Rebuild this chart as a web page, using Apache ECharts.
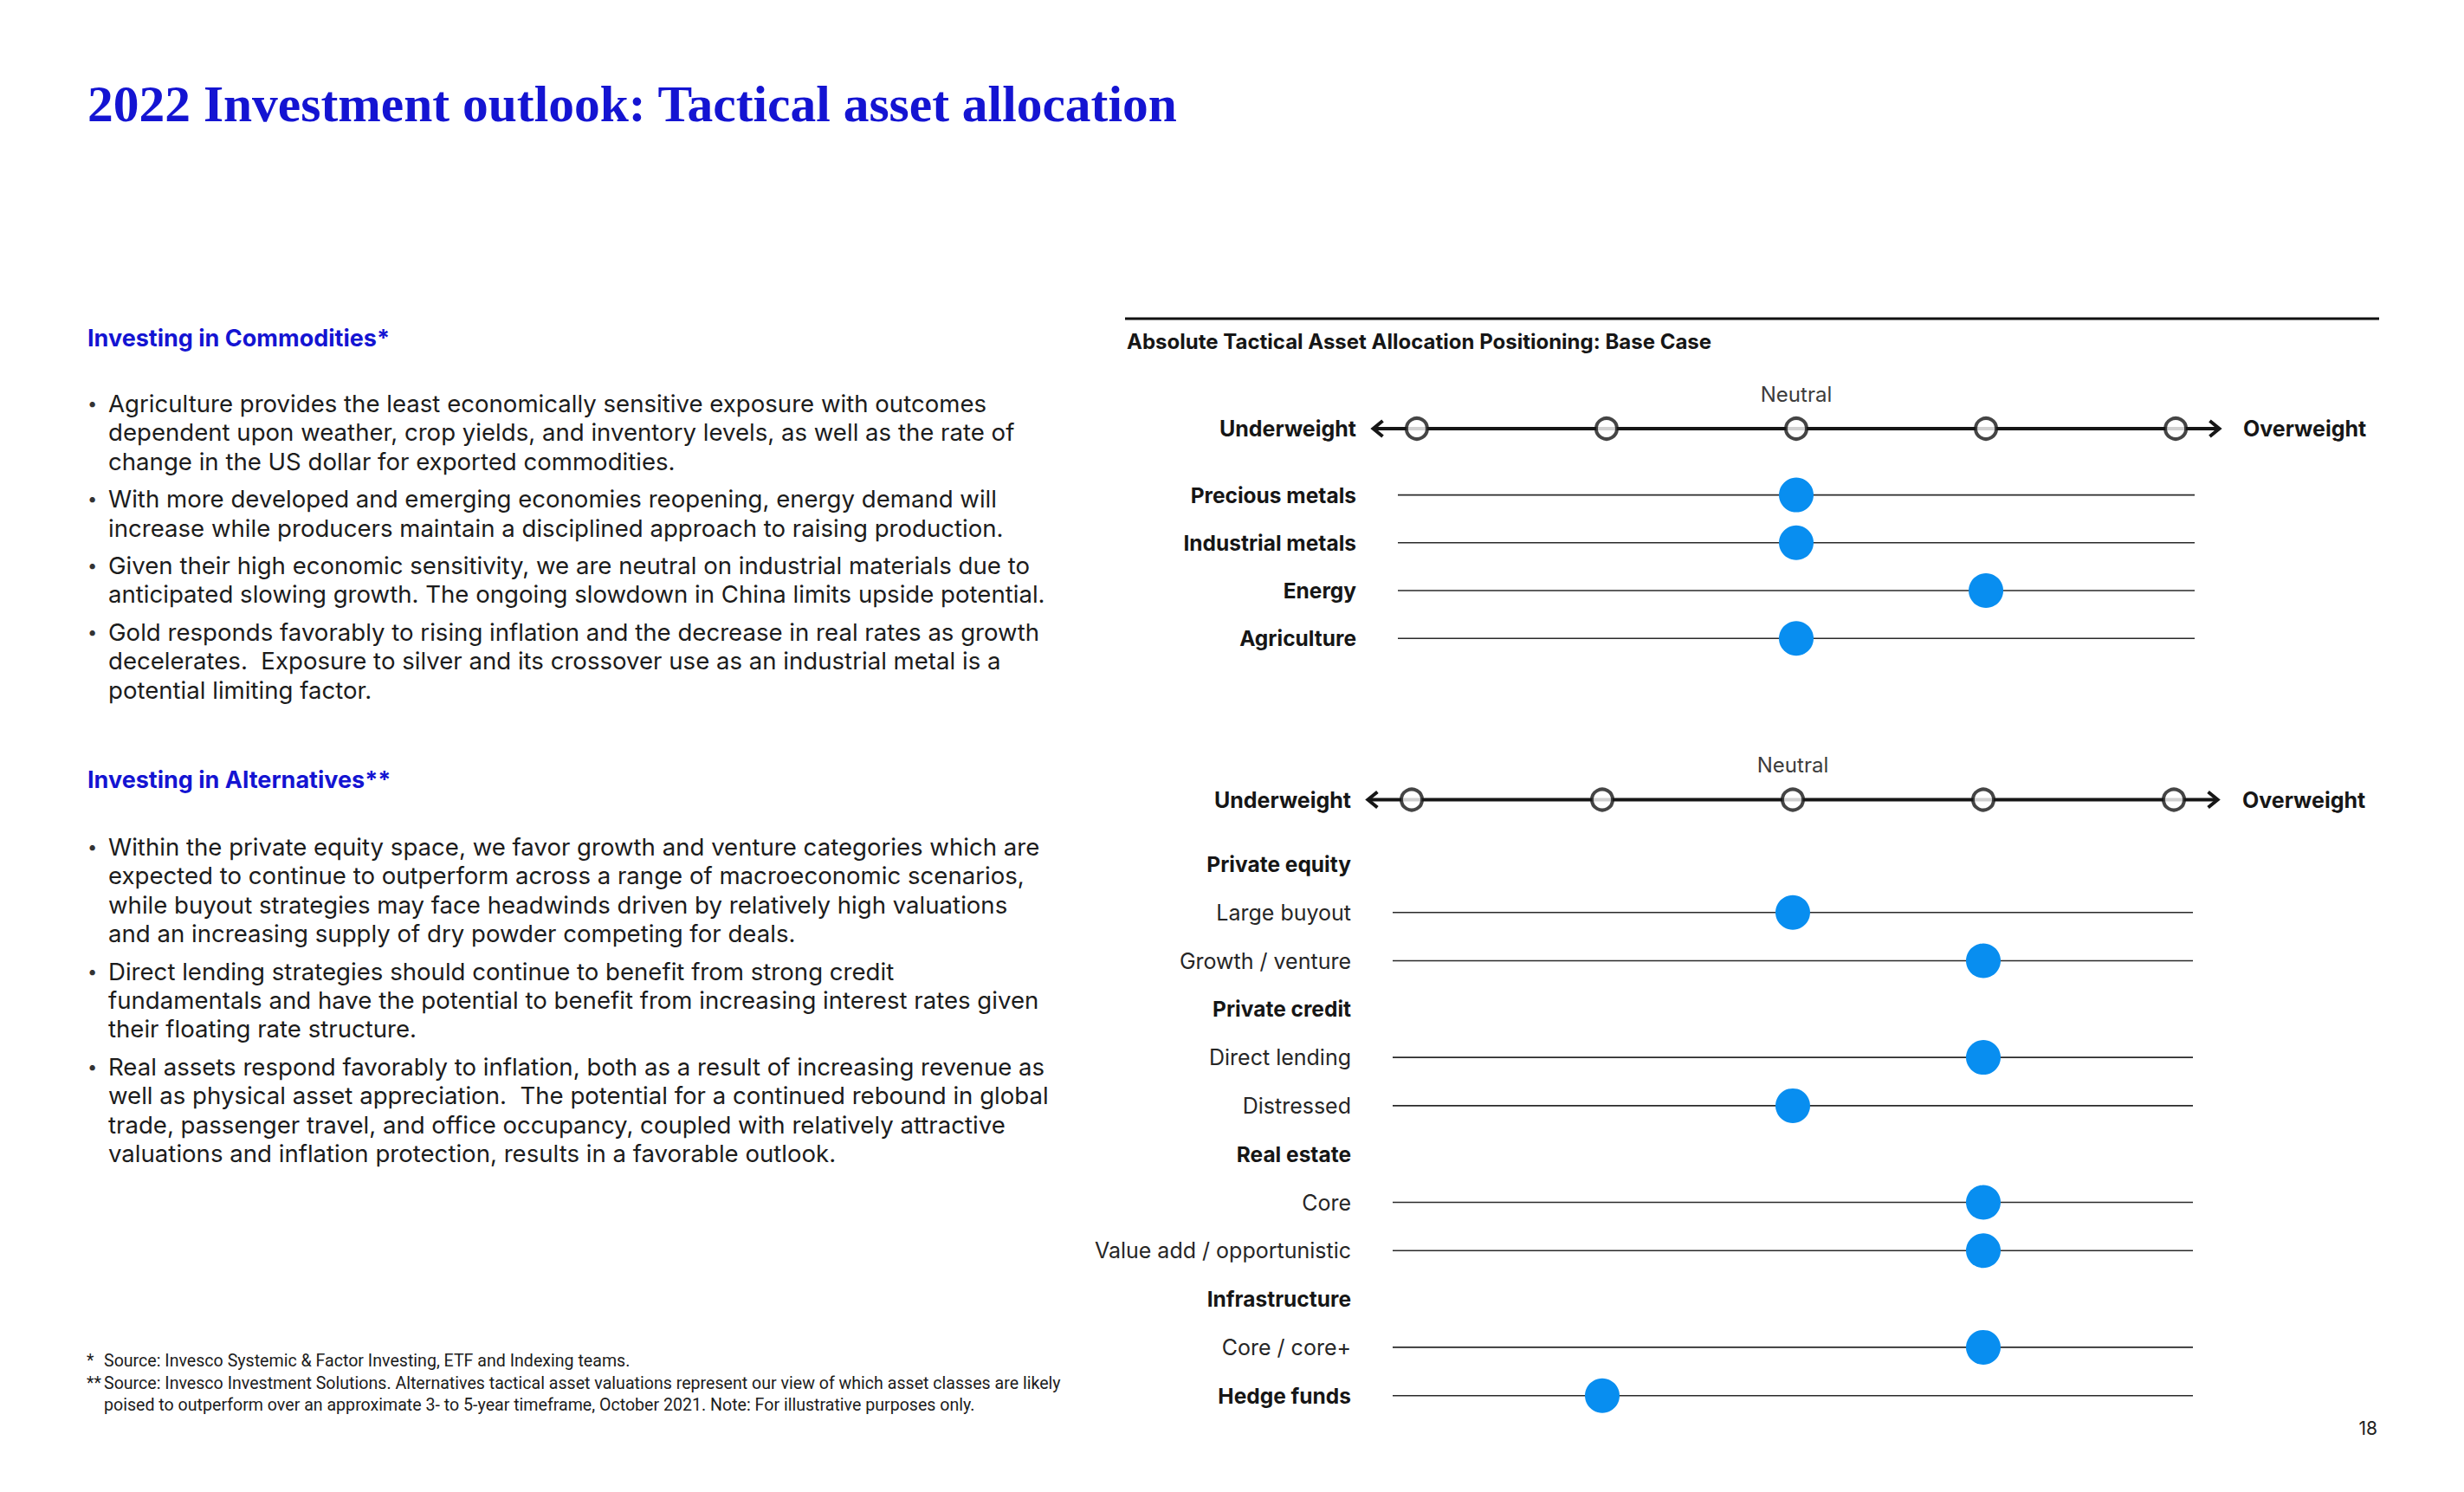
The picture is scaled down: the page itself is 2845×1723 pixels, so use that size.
<!DOCTYPE html>
<html>
<head>
<meta charset="utf-8">
<script src="https://cdn.jsdelivr.net/npm/echarts@6/dist/echarts.min.js"></script>
<style>
html, body { margin: 0; padding: 0; background: #ffffff; }
#main { width: 2845px; height: 1723px; }
</style>
</head>
<body>
<div id="main"></div>
<script>
// ---------------- data ----------------
const pageTitle = '2022 Investment outlook: Tactical asset allocation';
const chartTitle = 'Absolute Tactical Asset Allocation Positioning: Base Case';
const scaleEnds = ['Underweight', 'Overweight'];
const neutralLabel = 'Neutral';
const scalePositions = [-2, -1, 0, 1, 2];

const commodityCategories = ['Precious metals', 'Industrial metals', 'Energy', 'Agriculture'];
const commodityValues = [0, 0, 1, 0];
const commodityBold = [true, true, true, true];

const alternativeCategories = ['Private equity', 'Large buyout', 'Growth / venture', 'Private credit',
  'Direct lending', 'Distressed', 'Real estate', 'Core', 'Value add / opportunistic',
  'Infrastructure', 'Core / core+', 'Hedge funds'];
const alternativeValues = [null, 0, 1, null, 1, 0, null, 1, 1, null, 1, -1];
const alternativeBold = [true, false, false, true, false, false, true, false, false, true, false, true];

const commoditiesHeading = 'Investing in Commodities*';
const commoditiesBullets = [
  ['Agriculture provides the least economically sensitive exposure with outcomes',
   'dependent upon weather, crop yields, and inventory levels, as well as the rate of',
   'change in the US dollar for exported commodities.'],
  ['With more developed and emerging economies reopening, energy demand will',
   'increase while producers maintain a disciplined approach to raising production.'],
  ['Given their high economic sensitivity, we are neutral on industrial materials due to',
   'anticipated slowing growth. The ongoing slowdown in China limits upside potential.'],
  ['Gold responds favorably to rising inflation and the decrease in real rates as growth',
   'decelerates.  Exposure to silver and its crossover use as an industrial metal is a',
   'potential limiting factor.']
];
const alternativesHeading = 'Investing in Alternatives**';
const alternativesBullets = [
  ['Within the private equity space, we favor growth and venture categories which are',
   'expected to continue to outperform across a range of macroeconomic scenarios,',
   'while buyout strategies may face headwinds driven by relatively high valuations',
   'and an increasing supply of dry powder competing for deals.'],
  ['Direct lending strategies should continue to benefit from strong credit',
   'fundamentals and have the potential to benefit from increasing interest rates given',
   'their floating rate structure.'],
  ['Real assets respond favorably to inflation, both as a result of increasing revenue as',
   'well as physical asset appreciation.  The potential for a continued rebound in global',
   'trade, passenger travel, and office occupancy, coupled with relatively attractive',
   'valuations and inflation protection, results in a favorable outlook.']
];
const footnoteMarks = ['*', '**', ''];
const footnoteLines = [
  'Source: Invesco Systemic & Factor Investing, ETF and Indexing teams.',
  'Source: Invesco Investment Solutions. Alternatives tactical asset valuations represent our view of which asset classes are likely',
  'poised to outperform over an approximate 3- to 5-year timeframe, October 2021. Note: For illustrative purposes only.'
];
const pageNumber = '18';

// ---------------- style / layout ----------------
const SANS = 'Inter, "Noto Sans", "DejaVu Sans", sans-serif';
const SERIF = '"Liberation Serif", "DejaVu Serif", serif';
const BLUE = '#1414D2';
const DOT = '#088EF0';
const INK = '#161616';
const AX_MIN = -2.1, AX_MAX = 2.1;
const LINE_EXT = 2.1;
const ARROW_EXT = 2.23;

const panels = [
  { cats: commodityCategories, vals: commodityValues, bold: commodityBold,
    left: 1614, width: 920, scaleY: 495, rowsTop: 544, rowH: 55.2, labelGap: 48, rightGap: 56 },
  { cats: alternativeCategories, vals: alternativeValues, bold: alternativeBold,
    left: 1608, width: 924, scaleY: 923.5, rowsTop: 970, rowH: 55.8, labelGap: 48, rightGap: 57 }
];

const grid = [], xAxis = [], yAxis = [], series = [];

panels.forEach((p, i) => {
  const gScale = grid.length;
  grid.push({ left: p.left, width: p.width, top: p.scaleY - 20, height: 40 });
  const gRows = grid.length;
  grid.push({ left: p.left, width: p.width, top: p.rowsTop, height: p.rowH * p.cats.length });

  const xScale = xAxis.length;
  xAxis.push({
    gridIndex: gScale, type: 'value', min: AX_MIN, max: AX_MAX, position: 'top',
    axisLine: { show: false }, axisTick: { show: false }, splitLine: { show: false },
    axisLabel: {
      customValues: [0], formatter: v => (v === 0 ? neutralLabel : ''),
      margin: 8, fontFamily: SANS, fontSize: 24, color: '#3c3c3c'
    }
  });
  const xRows = xAxis.length;
  xAxis.push({ gridIndex: gRows, type: 'value', min: AX_MIN, max: AX_MAX, show: false });

  const yScaleL = yAxis.length;
  yAxis.push({
    gridIndex: gScale, type: 'category', data: ['scale'],
    axisLine: { show: false }, axisTick: { show: false },
    axisLabel: { formatter: () => scaleEnds[0], margin: p.labelGap, fontFamily: SANS,
      fontSize: 25, fontWeight: 'bold', color: INK }
  });
  yAxis.push({
    gridIndex: gScale, type: 'category', data: ['scale'], position: 'right',
    axisLine: { show: false }, axisTick: { show: false },
    axisLabel: { formatter: () => scaleEnds[1], margin: p.rightGap, fontFamily: SANS,
      fontSize: 25, fontWeight: 'bold', color: INK }
  });
  const yRows = yAxis.length;
  yAxis.push({
    gridIndex: gRows, type: 'category', data: p.cats, inverse: true,
    axisLine: { show: false }, axisTick: { show: false },
    axisLabel: {
      margin: p.labelGap, fontFamily: SANS, fontSize: 24.5, color: INK,
      formatter: (v, idx) => (p.bold[idx] ? '{b|' + v + '}' : '{n|' + v + '}'),
      rich: {
        b: { fontFamily: SANS, fontSize: 24.5, fontWeight: 'bold', color: INK },
        n: { fontFamily: SANS, fontSize: 25, fontWeight: 'normal', color: '#262626' }
      }
    }
  });

  // scale line with arrows
  series.push({
    type: 'custom', xAxisIndex: xScale, yAxisIndex: yScaleL, silent: true, z: 2,
    data: [[0, 0]],
    encode: { x: 0, y: 1 },
    renderItem: (params, api) => {
      const y = api.coord([0, api.value(1)])[1];
      const l = api.coord([-ARROW_EXT, 0])[0];
      const r = api.coord([ARROW_EXT, 0])[0];
      const st = { stroke: INK, lineWidth: 4, fill: null };
      return { type: 'group', children: [
        { type: 'line', shape: { x1: l + 1, y1: y, x2: r - 1, y2: y }, style: st },
        { type: 'polyline', shape: { points: [[l + 11, y - 9], [l, y], [l + 11, y + 9]] }, style: st },
        { type: 'polyline', shape: { points: [[r - 11, y - 9], [r, y], [r - 11, y + 9]] }, style: st }
      ] };
    }
  });
  series.push({
    type: 'scatter', xAxisIndex: xScale, yAxisIndex: yScaleL, silent: true, z: 3,
    symbol: 'circle', symbolSize: 24,
    itemStyle: { color: '#ffffff', borderColor: INK, borderWidth: 4 },
    data: scalePositions.map(v => [v, 0])
  });

  // row lines
  const rowData = [];
  p.vals.forEach((v, idx) => { if (v !== null) rowData.push([v, idx]); });
  series.push({
    type: 'custom', xAxisIndex: xRows, yAxisIndex: yRows, silent: true, z: 2,
    data: rowData, encode: { x: 0, y: 1 },
    renderItem: (params, api) => {
      const idx = api.value(1);
      const a = api.coord([-LINE_EXT, idx]);
      const b = api.coord([LINE_EXT, idx]);
      return { type: 'line', shape: { x1: a[0], y1: a[1], x2: b[0], y2: b[1] },
        style: { stroke: '#2a2a2a', lineWidth: 1.6 } };
    }
  });
  // position dots
  series.push({
    type: 'scatter', xAxisIndex: xRows, yAxisIndex: yRows, silent: true, z: 4,
    symbol: 'circle', symbolSize: 40, itemStyle: { color: DOT, opacity: 1 },
    data: rowData
  });
});

// ---------------- page text ----------------
const graphic = [];
function txt(text, x, y, o) {
  graphic.push({ type: 'text', x: x, y: y, silent: true, style: Object.assign({
    text: text, fontFamily: SANS, fontSize: 27.6, fill: '#1c1c1c',
    align: 'left', verticalAlign: 'middle' }, o || {}) });
}
txt(pageTitle, 101, 120, { fontFamily: SERIF, fontSize: 59.5, fontWeight: 'bold', fill: BLUE });

graphic.push({ type: 'line', silent: true, shape: { x1: 1299, y1: 368, x2: 2747, y2: 368 },
  style: { stroke: '#111', lineWidth: 3 } });
txt(chartTitle, 1301, 394, { fontSize: 24, fontWeight: 'bold', fill: INK });

const LINE_H = 33.4, PARA_GAP = 10, BULLET_X = 101, TEXT_X = 125;
function bullets(list, startY) {
  let y = startY;
  list.forEach(lines => {
    txt('•', BULLET_X, y, { fontSize: 20, fill: '#333' });
    lines.forEach(line => { txt(line, TEXT_X, y); y += LINE_H; });
    y += PARA_GAP;
  });
}
txt(commoditiesHeading, 101, 390, { fontSize: 27, fontWeight: 'bold', fill: BLUE });
bullets(commoditiesBullets, 466);
txt(alternativesHeading, 101, 900, { fontSize: 27, fontWeight: 'bold', fill: BLUE });
bullets(alternativesBullets, 978);

const FN_Y = [1571, 1597, 1622];
footnoteLines.forEach((line, i) => {
  if (footnoteMarks[i]) txt(footnoteMarks[i], 100, FN_Y[i], { fontFamily: 'Roboto, ' + SANS, fontSize: 19.6, fill: '#1c1c1c' });
  txt(line, 120, FN_Y[i], { fontFamily: 'Roboto, ' + SANS, fontSize: 19.6, fill: '#1c1c1c' });
});
txt(pageNumber, 2745, 1649, { fontSize: 21, align: 'right', fill: '#222' });

const chart = echarts.init(document.getElementById('main'), null, { renderer: 'svg' });
chart.setOption({
  backgroundColor: '#ffffff',
  animation: false,
  grid: grid, xAxis: xAxis, yAxis: yAxis, series: series, graphic: graphic
});
</script>
</body>
</html>
